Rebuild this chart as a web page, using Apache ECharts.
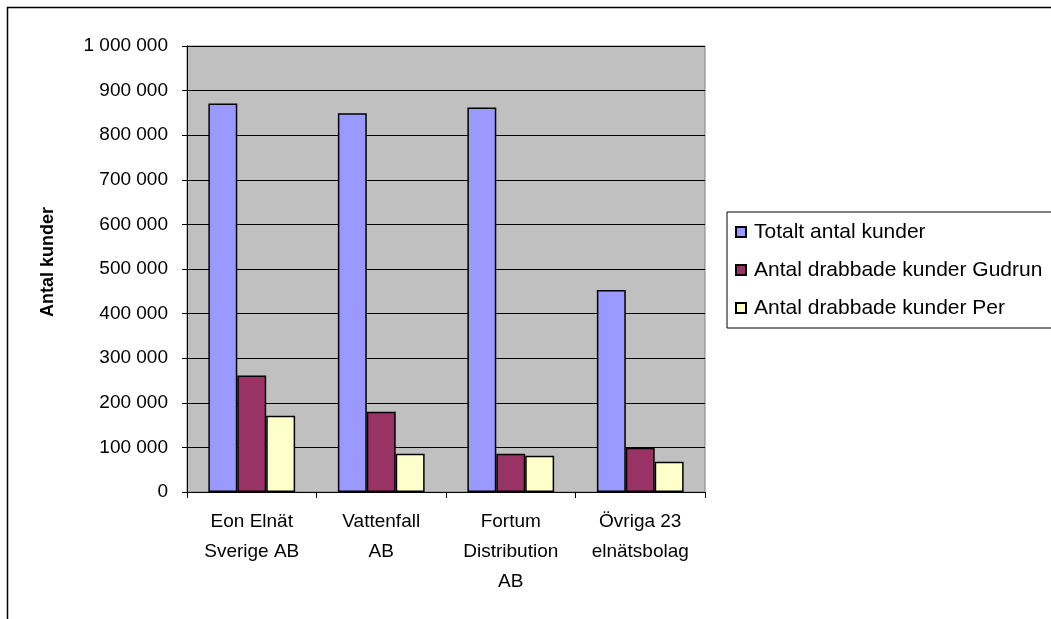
<!DOCTYPE html>
<html>
<head>
<meta charset="utf-8">
<script src="https://cdn.jsdelivr.net/npm/echarts@6/dist/echarts.min.js"></script>
<style>
html,body{margin:0;padding:0;background:#fff;}
#c{width:1051px;height:619px;}
</style>
</head>
<body>
<div id="c"></div>
<script>
const categories = ["Eon Elnät\nSverige AB", "Vattenfall\nAB", "Fortum\nDistribution\nAB", "Övriga 23\nelnätsbolag"];
const seriesNames = ["Totalt antal kunder", "Antal drabbade kunder Gudrun", "Antal drabbade kunder Per"];
const totalt = [871000, 849000, 862000, 453000];
const gudrun = [261000, 180000, 86000, 99000];
const per = [171000, 86000, 81000, 68000];
const yMin = 0, yMax = 1000000, yStep = 100000;

const font = "'Liberation Sans', Arial, sans-serif";
const colors = ['#9999FF', '#993366', '#FFFFCC'];
const vals = [totalt, gudrun, per];

const chart = echarts.init(document.getElementById('c'), null, {renderer: 'canvas'});
chart.setOption({
  animation: false,
  backgroundColor: '#ffffff',
  textStyle: {fontFamily: font},
  graphic: [{
    type: 'rect', x: 0, y: 0,
    shape: {x: 7.5, y: 7.5, width: 1200, height: 800},
    style: {fill: 'none', stroke: '#000', lineWidth: 1.5},
    z: 100
  }],
  grid: {
    left: 187, top: 46, right: 346, bottom: 127,
    show: true, backgroundColor: '#C0C0C0', borderColor: '#808080', borderWidth: 1
  },
  legend: {
    orient: 'vertical',
    left: 727, top: 212,
    data: seriesNames.map(n => ({name: n, icon: 'rect'})),
    backgroundColor: '#fff',
    borderColor: '#000', borderWidth: 1,
    padding: [9, 80, 9, 8],
    itemWidth: 10, itemHeight: 10, itemGap: 16,
    textStyle: {fontFamily: font, fontSize: 21, color: '#000', lineHeight: 22, padding: [0, 0, 0, 3]},
    selectedMode: false
  },
  xAxis: {
    type: 'category',
    data: categories,
    axisLine: {lineStyle: {color: '#000', width: 1}},
    axisTick: {show: true, length: 6, lineStyle: {color: '#000'}},
    axisLabel: {interval: 0, fontFamily: font, fontSize: 19, color: '#000', lineHeight: 30, margin: 15}
  },
  yAxis: {
    type: 'value',
    min: yMin, max: yMax, interval: yStep,
    name: 'Antal kunder',
    nameLocation: 'middle',
    nameRotate: 90,
    nameGap: 130,
    nameTextStyle: {fontFamily: font, fontSize: 18, fontWeight: 'bold', color: '#000', padding: [0, 0, 0, 14]},
    axisLine: {show: true, lineStyle: {color: '#000'}},
    axisTick: {show: true, length: 5, lineStyle: {color: '#000'}},
    axisLabel: {
      fontFamily: font, fontSize: 19, color: '#000', margin: 19,
      formatter: v => String(v).replace(/\B(?=(\d{3})+(?!\d))/g, ' ')
    },
    splitLine: {show: true, lineStyle: {color: '#000', width: 1}}
  },
  series: seriesNames.map((n, i) => ({
    name: n,
    type: 'bar',
    data: vals[i],
    barGap: '0%',
    barCategoryGap: '33%',
    itemStyle: {color: colors[i], borderColor: '#000', borderWidth: 1.5}
  }))
});
</script>
</body>
</html>
